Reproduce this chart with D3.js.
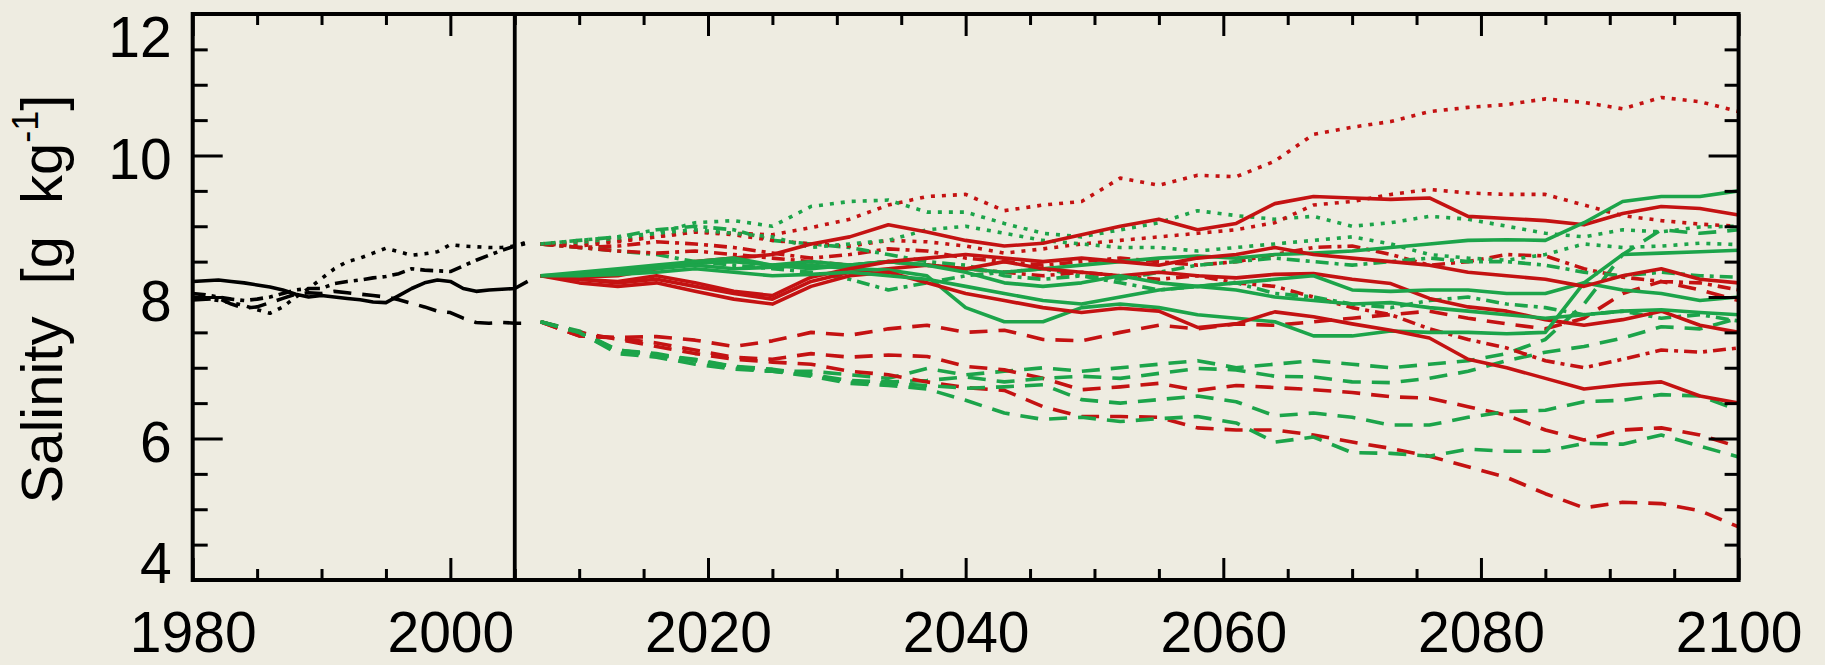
<!DOCTYPE html>
<html><head><meta charset="utf-8">
<script src="https://cdn.jsdelivr.net/npm/d3@7"></script>
<style>
html,body{margin:0;padding:0;background:#EEECE1;}
svg{display:block;}
text{font-family:"Liberation Sans",Arial,sans-serif;fill:#000;}
</style></head><body>
<svg id="chart" width="1825" height="665"></svg>
<script>
// ---------- data ----------
const yearsHist = [1980,1981,1982,1983,1984,1985,1986,1987,1988,1989,1990,1991,1992,1993,1994,1995,1996,1997,1998,1999,2000,2001,2002,2003,2004,2005,2006];
const histSolid   = [8.22,8.23,8.24,8.22,8.20,8.17,8.14,8.10,8.04,8.00,8.02,8.00,7.98,7.96,7.93,7.92,8.02,8.12,8.20,8.24,8.22,8.12,8.08,8.10,8.11,8.12,8.22];
const histDashed  = [7.96,7.97,7.98,7.90,7.84,7.86,7.92,7.98,8.04,8.06,8.05,8.08,8.06,8.04,8.02,8.00,7.96,7.91,7.86,7.80,7.78,7.70,7.64,7.63,7.64,7.63,7.63];
const histDashDot = [8.05,8.03,8.00,7.97,7.95,7.97,8.00,8.05,8.10,8.12,8.12,8.19,8.22,8.24,8.27,8.29,8.33,8.40,8.38,8.37,8.36,8.44,8.52,8.59,8.66,8.72,8.76];
const histDotted  = [8.00,7.98,7.95,7.92,7.88,7.82,7.77,7.86,8.00,8.12,8.26,8.40,8.50,8.55,8.62,8.69,8.64,8.59,8.61,8.64,8.74,8.72,8.71,8.70,8.70,8.72,8.78];

const yearsFut = [2007,2010,2013,2016,2019,2022,2025,2028,2031,2034,2037,2040,2043,2046,2049,2052,2055,2058,2061,2064,2067,2070,2073,2076,2079,2082,2085,2088,2091,2094,2097,2100];

// red, solid
const redSolid1 = [8.30,8.28,8.30,8.40,8.50,8.55,8.60,8.75,8.85,9.02,8.92,8.80,8.72,8.76,8.88,9.00,9.10,8.95,9.04,9.32,9.42,9.40,9.38,9.40,9.14,9.11,9.08,9.02,9.18,9.28,9.25,9.16];
const redSolid2 = [8.30,8.25,8.20,8.25,8.15,8.05,7.97,8.22,8.35,8.40,8.45,8.40,8.50,8.40,8.35,8.30,8.35,8.30,8.27,8.32,8.33,8.25,8.19,7.98,7.86,7.80,7.68,7.60,7.68,7.80,7.60,7.50];
const redSolid3 = [8.30,8.20,8.15,8.20,8.08,7.97,7.90,8.15,8.30,8.35,8.20,8.05,7.95,7.85,7.78,7.84,7.80,7.57,7.62,7.79,7.72,7.62,7.53,7.42,7.12,7.00,6.85,6.70,6.76,6.80,6.60,6.50];
const redSolid4 = [8.30,8.25,8.22,8.30,8.20,8.08,8.02,8.28,8.40,8.50,8.55,8.60,8.55,8.50,8.55,8.50,8.45,8.55,8.60,8.70,8.60,8.55,8.50,8.45,8.35,8.30,8.25,8.15,8.30,8.40,8.25,8.20];
// green, solid
const greenSolid1 = [8.30,8.32,8.38,8.42,8.48,8.50,8.45,8.50,8.45,8.50,8.45,8.40,8.35,8.40,8.45,8.50,8.55,8.58,8.55,8.60,8.62,8.65,8.70,8.75,8.80,8.81,8.80,9.05,9.35,9.42,9.42,9.50];
const greenSolid2 = [8.30,8.30,8.35,8.40,8.45,8.40,8.42,8.45,8.40,8.38,8.30,7.85,7.65,7.65,7.85,7.90,7.85,7.75,7.70,7.65,7.45,7.45,7.52,7.50,7.50,7.48,7.50,8.20,8.60,8.62,8.64,8.66];
const greenSolid3 = [8.30,8.35,8.40,8.45,8.50,8.55,8.45,8.40,8.45,8.50,8.45,8.35,8.20,8.15,8.20,8.30,8.20,8.15,8.20,8.25,8.30,8.10,8.08,8.10,8.10,8.05,8.05,8.20,8.10,8.05,7.95,8.00];
const greenSolid4 = [8.30,8.30,8.32,8.35,8.40,8.35,8.30,8.32,8.35,8.30,8.25,8.15,8.05,7.95,7.90,8.00,8.10,8.15,8.10,8.00,7.95,7.90,7.92,7.85,7.80,7.75,7.70,7.75,7.80,7.82,7.78,7.75];
// red, dotted / dash-dot
const redDotted1 = [8.75,8.78,8.80,8.85,8.92,8.90,8.88,8.98,9.10,9.30,9.42,9.45,9.22,9.30,9.35,9.68,9.58,9.72,9.70,9.92,10.30,10.40,10.48,10.62,10.68,10.72,10.80,10.75,10.66,10.82,10.76,10.62];
const redDotted2 = [8.75,8.72,8.78,8.85,8.92,8.88,8.80,8.75,8.72,8.80,8.78,8.72,8.62,8.68,8.75,8.80,8.85,8.90,8.95,9.05,9.30,9.35,9.45,9.52,9.47,9.45,9.45,9.30,9.15,9.08,9.03,9.00];
const redDashDot1 = [8.75,8.70,8.72,8.78,8.75,8.70,8.62,8.55,8.60,8.68,8.65,8.55,8.50,8.45,8.50,8.55,8.50,8.45,8.50,8.60,8.70,8.72,8.60,8.45,8.50,8.60,8.58,8.40,8.28,8.22,8.20,8.10];
const redDashDot2 = [8.75,8.70,8.65,8.62,8.65,8.60,8.55,8.50,8.45,8.50,8.45,8.40,8.35,8.30,8.35,8.30,8.25,8.30,8.20,8.15,8.00,7.85,7.75,7.55,7.40,7.28,7.10,7.00,7.12,7.25,7.22,7.28];
// green, dotted / dash-dot
const greenDotted1 = [8.75,8.75,8.80,8.90,9.05,9.08,9.00,9.28,9.35,9.37,9.20,9.20,9.04,8.90,8.85,8.95,9.05,9.22,9.15,9.10,9.14,9.00,9.05,9.14,9.10,9.00,8.90,8.85,8.95,8.92,8.99,9.00];
const greenDotted2 = [8.75,8.80,8.85,8.90,8.95,8.90,8.85,8.70,8.75,8.80,8.95,9.00,8.90,8.80,8.75,8.70,8.70,8.65,8.70,8.75,8.80,8.85,8.75,8.60,8.55,8.52,8.60,8.75,8.70,8.72,8.76,8.74];
const greenDashDot1 = [8.75,8.70,8.65,8.60,8.50,8.45,8.40,8.35,8.25,8.10,8.20,8.30,8.35,8.40,8.30,8.25,8.35,8.45,8.50,8.55,8.50,8.45,8.50,8.55,8.50,8.50,8.45,8.35,8.30,8.35,8.30,8.28];
const greenDashDot2 = [8.75,8.80,8.85,8.95,9.00,8.95,8.80,8.75,8.70,8.60,8.50,8.45,8.30,8.25,8.30,8.20,8.10,8.15,8.20,8.05,8.00,7.90,7.85,7.95,8.00,7.90,7.85,7.75,7.80,7.70,7.75,7.66];
// red, dashed
const redDashed1 = [7.65,7.45,7.43,7.44,7.39,7.30,7.38,7.50,7.46,7.55,7.60,7.50,7.53,7.40,7.38,7.50,7.60,7.55,7.62,7.60,7.65,7.70,7.75,7.80,7.70,7.62,7.55,7.70,8.05,8.22,8.10,7.95];
const redDashed2 = [7.65,7.45,7.42,7.35,7.25,7.15,7.12,7.20,7.15,7.18,7.16,7.02,6.97,6.85,6.69,6.73,6.78,6.68,6.75,6.72,6.69,6.65,6.59,6.57,6.45,6.33,6.12,5.98,6.12,6.15,6.05,5.88];
const redDashed3 = [7.65,7.50,7.40,7.30,7.20,7.12,7.08,7.05,6.95,6.90,6.80,6.72,6.68,6.45,6.31,6.31,6.30,6.15,6.12,6.12,6.05,5.95,5.86,5.75,5.60,5.45,5.22,5.02,5.10,5.08,4.98,4.75];
// green, dashed
const greenDashed1 = [7.65,7.52,7.25,7.20,7.10,7.02,6.95,6.95,6.90,6.85,6.99,6.90,6.95,7.00,6.95,7.00,7.05,7.10,7.00,7.05,7.10,7.05,7.00,7.05,7.10,7.20,7.40,7.90,8.60,8.95,8.90,8.95];
const greenDashed2 = [7.65,7.50,7.25,7.18,7.12,7.02,6.98,6.90,6.82,6.80,6.82,6.87,6.80,6.85,6.88,6.85,6.92,6.99,6.97,6.88,6.87,6.80,6.79,6.85,6.95,7.10,7.22,7.30,7.42,7.58,7.55,7.70];
const greenDashed3 = [7.65,7.50,7.22,7.18,7.10,7.00,6.95,6.90,6.80,6.78,6.75,6.71,6.73,6.76,6.55,6.50,6.55,6.60,6.52,6.32,6.36,6.30,6.19,6.19,6.30,6.38,6.40,6.52,6.54,6.62,6.60,6.40];
const greenDashed4 = [7.65,7.50,7.20,7.15,7.05,6.98,6.95,6.88,6.78,6.75,6.70,6.54,6.36,6.27,6.30,6.24,6.28,6.31,6.22,5.95,6.02,5.80,5.79,5.75,5.85,5.82,5.82,5.93,5.92,6.05,5.89,5.74];

const xMajorTicks = [1980,2000,2020,2040,2060,2080,2100];
const xMinorTicks = [1985,1990,1995,2005,2010,2015,2025,2030,2035,2045,2050,2055,2065,2070,2075,2085,2090,2095];
const yMajorTicks = [4,6,8,10,12];
const yMinorTicks = [4.5,5,5.5,6.5,7,7.5,8.5,9,9.5,10.5,11,11.5];
const scenarioYear = 2005;

// ---------- styles ----------
const RED = "#C41212", GREEN = "#1CA44A", BLACK = "#000";
const DASH = {solid:null, dashed:"18,11", dotted:"4,7", dashdot:"13,6,4,6"};

const histSeries = [
  {v:histSolid, s:"solid"}, {v:histDashed, s:"dashed"},
  {v:histDashDot, s:"dashdot"}, {v:histDotted, s:"dotted"}
];
const futSeries = [
  {v:redDashed1,c:RED,s:"dashed"},{v:greenDashed1,c:GREEN,s:"dashed"},
  {v:redDashed2,c:RED,s:"dashed"},{v:greenDashed2,c:GREEN,s:"dashed"},
  {v:redDashed3,c:RED,s:"dashed"},{v:greenDashed3,c:GREEN,s:"dashed"},
  {v:greenDashed4,c:GREEN,s:"dashed"},
  {v:redDashDot1,c:RED,s:"dashdot"},{v:greenDashDot1,c:GREEN,s:"dashdot"},
  {v:redDashDot2,c:RED,s:"dashdot"},{v:greenDashDot2,c:GREEN,s:"dashdot"},
  {v:redDotted1,c:RED,s:"dotted"},{v:greenDotted1,c:GREEN,s:"dotted"},
  {v:redDotted2,c:RED,s:"dotted"},{v:greenDotted2,c:GREEN,s:"dotted"},
  {v:redSolid1,c:RED,s:"solid"},{v:greenSolid1,c:GREEN,s:"solid"},
  {v:redSolid2,c:RED,s:"solid"},{v:greenSolid2,c:GREEN,s:"solid"},
  {v:redSolid3,c:RED,s:"solid"},{v:greenSolid3,c:GREEN,s:"solid"},
  {v:redSolid4,c:RED,s:"solid"},{v:greenSolid4,c:GREEN,s:"solid"}
];

// ---------- layout ----------
const L = 192.7, R = 1738.6, T = 14, B = 580;
const FONT = 57;
const svg = d3.select("#chart");
svg.append("rect").attr("width",1825).attr("height",665).attr("fill","#EEECE1");

const x = d3.scaleLinear().domain([1980,2100]).range([L,R]);
const y = d3.scaleLinear().domain([4,12]).range([B,T]);

// ---------- lines ----------
const lineH = d3.line().x((d,i)=>x(yearsHist[i])).y(d=>y(d));
const lineF = d3.line().x((d,i)=>x(yearsFut[i])).y(d=>y(d));

const g = svg.append("g");
g.selectAll("path.hist").data(histSeries).join("path")
  .attr("class","hist")
  .attr("d", d=>lineH(d.v))
  .attr("fill","none").attr("stroke",BLACK).attr("stroke-width",3.6)
  .attr("stroke-dasharray", d=>DASH[d.s])
  .attr("stroke-linejoin","round");

g.selectAll("path.fut").data(futSeries).join("path")
  .attr("class","fut")
  .attr("d", d=>lineF(d.v))
  .attr("fill","none").attr("stroke",d=>d.c).attr("stroke-width",3.6)
  .attr("stroke-dasharray", d=>DASH[d.s])
  .attr("stroke-linejoin","round");

// ---------- axes ----------
function styleAxis(sel){
  sel.select(".domain").remove();
  sel.selectAll(".tick line").attr("stroke","#000").attr("stroke-width",3);
  sel.selectAll("text").style("font-family",'"Liberation Sans",Arial,sans-serif')
     .style("font-size",FONT+"px").attr("fill","#000");
}
// bottom
const bMaj = svg.append("g").attr("transform",`translate(0,${B})`)
  .call(d3.axisBottom(x).tickValues(xMajorTicks).tickSize(-22).tickSizeOuter(0).tickFormat(d3.format("d")));
styleAxis(bMaj);
bMaj.selectAll("text").attr("y",72).attr("dy",null);
const bMin = svg.append("g").attr("transform",`translate(0,${B})`)
  .call(d3.axisBottom(x).tickValues(xMinorTicks).tickSize(-11).tickSizeOuter(0).tickFormat(""));
styleAxis(bMin);
// top
const tMaj = svg.append("g").attr("transform",`translate(0,${T})`)
  .call(d3.axisTop(x).tickValues(xMajorTicks).tickSize(-22).tickSizeOuter(0).tickFormat(""));
styleAxis(tMaj);
const tMin = svg.append("g").attr("transform",`translate(0,${T})`)
  .call(d3.axisTop(x).tickValues(xMinorTicks).tickSize(-11).tickSizeOuter(0).tickFormat(""));
styleAxis(tMin);
// left
const lMaj = svg.append("g").attr("transform",`translate(${L},0)`)
  .call(d3.axisLeft(y).tickValues(yMajorTicks).tickSize(-30).tickSizeOuter(0).tickFormat(d3.format("d")));
styleAxis(lMaj);
lMaj.selectAll("text").attr("x",-21).attr("dy",d=> d===12 ? "0.74em" : (d===4 ? "0.05em" : "0.41em"));
const lMin = svg.append("g").attr("transform",`translate(${L},0)`)
  .call(d3.axisLeft(y).tickValues(yMinorTicks).tickSize(-15).tickSizeOuter(0).tickFormat(""));
styleAxis(lMin);
// right
const rMaj = svg.append("g").attr("transform",`translate(${R},0)`)
  .call(d3.axisRight(y).tickValues(yMajorTicks).tickSize(-30).tickSizeOuter(0).tickFormat(""));
styleAxis(rMaj);
const rMin = svg.append("g").attr("transform",`translate(${R},0)`)
  .call(d3.axisRight(y).tickValues(yMinorTicks).tickSize(-14).tickSizeOuter(0).tickFormat(""));
styleAxis(rMin);

// frame
svg.append("rect").attr("x",L).attr("y",T).attr("width",R-L).attr("height",B-T)
  .attr("fill","none").attr("stroke","#000").attr("stroke-width",4);
// scenario start line
svg.append("line").attr("x1",x(scenarioYear)).attr("x2",x(scenarioYear))
  .attr("y1",T).attr("y2",B).attr("stroke","#000").attr("stroke-width",3.8);

// y title
const yt = svg.append("text")
  .attr("transform",`translate(62,${(T+B)/2+2}) rotate(-90)`)
  .attr("text-anchor","middle")
  .style("font-size","58px").style("word-spacing","16px");
yt.append("tspan").text("Salinity [g kg");
yt.append("tspan").attr("dy",-24).style("font-size","36px").text("-1");
yt.append("tspan").attr("dy",24).text("]");
</script>
</body></html>
